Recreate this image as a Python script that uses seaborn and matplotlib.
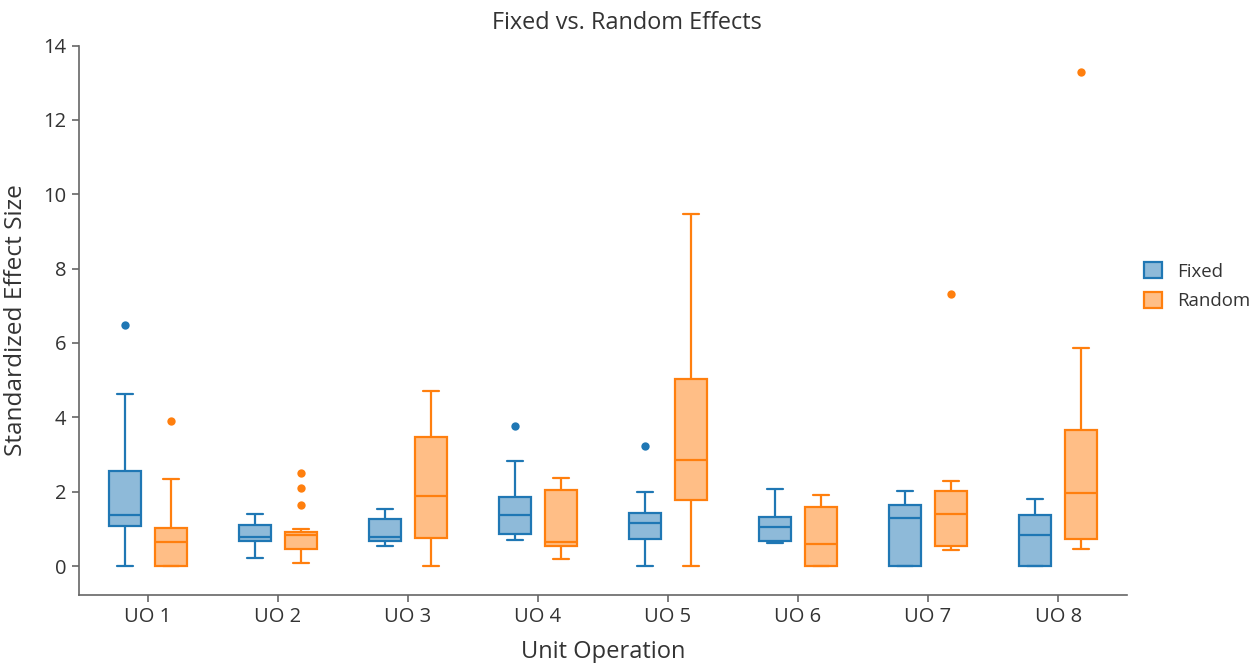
import numpy as np
import pandas as pd
import matplotlib
matplotlib.use("Agg")
import matplotlib.pyplot as plt
from matplotlib.patches import Patch
from matplotlib.colors import to_rgba
import seaborn as sns

units = ["UO 1", "UO 2", "UO 3", "UO 4", "UO 5", "UO 6", "UO 7", "UO 8"]
groups = ["Fixed", "Random"]
colors = ["#1f77b4", "#ff7f0e"]

fixed_samples = [
    [0.0, 0.6, 1.08, 1.2, 1.37, 1.9, 2.55, 4.62, 6.49],
    [0.21, 0.66, 0.79, 1.11, 1.39],
    [0.54, 0.66, 0.78, 1.27, 1.53],
    [0.71, 0.78, 0.85, 1.1, 1.38, 1.6, 1.85, 2.83, 3.77],
    [0.0, 0.4, 0.72, 0.95, 1.16, 1.3, 1.43, 1.99, 3.24],
    [0.61, 0.66, 1.06, 1.31, 2.07],
    [0.0, 0.0, 1.28, 1.63, 2.03],
    [0.0, 0.0, 0.83, 1.38, 1.80],
]
random_samples = [
    [0.0, 0.0, 0.0, 0.3, 0.64, 0.85, 1.02, 2.34, 3.89],
    [0.07, 0.2, 0.3, 0.4, 0.46, 0.6, 0.7, 0.78, 0.83, 0.86, 0.88, 0.9, 0.92, 0.99, 1.65, 2.09, 2.49],
    [0.0, 0.74, 1.88, 3.48, 4.71],
    [0.19, 0.55, 0.64, 2.05, 2.36],
    [0.0, 1.78, 2.86, 5.03, 9.46],
    [0.0, 0.0, 0.58, 1.60, 1.90],
    [0.43, 0.5, 0.54, 0.9, 1.40, 1.8, 2.03, 2.29, 7.31],
    [0.46, 0.6, 0.73, 1.3, 1.96, 2.8, 3.66, 5.86, 13.28],
]

rows = []
for unit, fv, rv in zip(units, fixed_samples, random_samples):
    for v in fv:
        rows.append((unit, "Fixed", v))
    for v in rv:
        rows.append((unit, "Random", v))
df = pd.DataFrame(rows, columns=["unit", "effect", "value"])

sns.set_style("ticks")
plt.rcParams["font.family"] = ["Open Sans", "DejaVu Sans"]

fig = plt.figure(figsize=(12.53, 6.63), dpi=100)
ax = fig.add_axes([79 / 1253, (663 - 595) / 663, 1048 / 1253, (595 - 45.5) / 663])

sns.boxplot(
    data=df, x="unit", y="value", hue="effect", order=units, hue_order=groups,
    palette=dict(zip(groups, colors)), width=0.7, gap=0.3, linewidth=1.6,
    whis=1.5, legend=False, ax=ax,
    flierprops=dict(marker="o", markersize=6),
)

for container, c in zip(ax.containers, colors):
    for box in container.boxes:
        box.set_edgecolor(c)
        box.set_facecolor(to_rgba(c, 0.5))
        box.set_linewidth(1.6)
    for ln in list(container.whiskers) + list(container.caps) + list(container.medians):
        ln.set_color(c)
        ln.set_linewidth(1.6)
    for fl in container.fliers:
        fl.set_markerfacecolor(c)
        fl.set_markeredgecolor(c)
        fl.set_markeredgewidth(0)

ax.set_xlim(-0.53, 7.53)
ax.set_ylim(-0.78, 14.0)
ax.set_yticks(np.arange(0, 15, 2))
for s in ["top", "right"]:
    ax.spines[s].set_visible(False)
for s in ["left", "bottom"]:
    ax.spines[s].set_color("#666666")
    ax.spines[s].set_linewidth(1.2)
ax.tick_params(axis="both", colors="#666666", length=5, width=1.2, labelsize=14.5,
               labelcolor="#333333", pad=4)

ax.set_xlabel("Unit Operation", fontsize=17, color="#333333", labelpad=9)
ax.set_ylabel("Standardized Effect Size", fontsize=17.6, color="#333333", labelpad=11)
fig.text(0.5, 1 - 23 / 663, "Fixed vs. Random Effects", ha="center", va="center",
         fontsize=16.9, color="#333333")

handles = [Patch(facecolor=to_rgba(c, 0.5), edgecolor=c, linewidth=1.6, label=g)
           for g, c in zip(groups, colors)]
leg = ax.legend(handles=handles, loc="center left", bbox_to_anchor=(1.011, 0.562),
                frameon=False, fontsize=13.4, handlelength=0.95, handleheight=0.95,
                handletextpad=0.85, labelspacing=0.6, borderaxespad=0, borderpad=0.3)
for t in leg.get_texts():
    t.set_color("#333333")

fig.savefig("out.png", dpi=100)
